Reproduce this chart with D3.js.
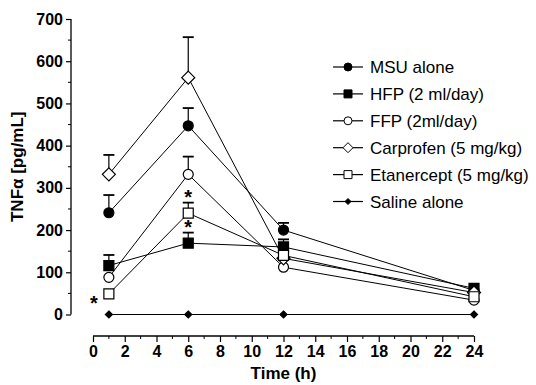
<!DOCTYPE html>
<html>
<head>
<meta charset="utf-8">
<script src="https://cdn.jsdelivr.net/npm/d3@7"></script>
<style>
  body { margin: 0; background: #fff; }
  text { font-family: "Liberation Sans", Arial, sans-serif; }
</style>
</head>
<body>
<div id="chart"></div>
<script>
// time points (h)
const times = [1, 6, 12, 24];

// TNF-alpha means and upper error (SEM) per group
const msuAlone = [241, 447, 200, 57];
const msuErr = [42, 42, 17, 0];
const hfp = [116, 169, 160, 62];
const hfpErr = [25, 25, 18, 0];
const ffp = [88, 332, 112, 34];
const ffpErr = [0, 42, 0, 0];
const carprofen = [332, 561, 133, 52];
const carprofenErr = [46, 96, 0, 0];
const etanercept = [49, 240, 140, 42];
const etanerceptErr = [0, 25, 0, 0];
const saline = [0, 0, 0, 0];

const groups = ['MSU alone', 'HFP (2 ml/day)', 'FFP (2ml/day)', 'Carprofen (5 mg/kg)', 'Etanercept (5 mg/kg)', 'Saline alone'];

const xTicks = [0, 2, 4, 6, 8, 10, 12, 14, 16, 18, 20, 22, 24];
const yTicks = [0, 100, 200, 300, 400, 500, 600, 700];

// significance marks: [time, value the star sits at, side offset]
const stars = [
  {t: 6, v: 265, dx: 0},
  {t: 6, v: 194, dx: 0},
  {t: 1, v: 49, dx: -15}
];

const width = 536, height = 385;

const series = [
  {name: groups[0], vals: msuAlone, err: msuErr, shape: 'circle', fill: '#000', size: 10, lsize: 8},
  {name: groups[1], vals: hfp, err: hfpErr, shape: 'square', fill: '#000', size: 10, lsize: 8},
  {name: groups[2], vals: ffp, err: ffpErr, shape: 'circle', fill: '#fff', size: 10, lsize: 8},
  {name: groups[3], vals: carprofen, err: carprofenErr, shape: 'diamond', fill: '#fff', size: 13, lsize: 10},
  {name: groups[4], vals: etanercept, err: etanerceptErr, shape: 'square', fill: '#fff', size: 10, lsize: 8},
  {name: groups[5], vals: saline, err: [0, 0, 0, 0], shape: 'diamond', fill: '#000', size: 7, lsize: 6}
];

const xScale = d3.scaleLinear().domain([0, 24]).range([93, 474]);
const yScale = d3.scaleLinear().domain([0, 700]).range([314.5, 19]);

const svg = d3.select('#chart')
  .append('svg')
    .attr('width', width)
    .attr('height', height);

// y axis
const yAxis = svg.append('g')
  .attr('transform', 'translate(71,0)');
yAxis.call(d3.axisLeft(yScale).tickValues(yTicks).tickSize(5).tickPadding(3).tickFormat(d3.format('d')));
yAxis.append('g')
  .selectAll('line')
  .data(d3.range(50, 700, 100))
  .join('line')
    .attr('x1', -3).attr('x2', 0)
    .attr('y1', (d) => yScale(d)).attr('y2', (d) => yScale(d))
    .attr('stroke', '#000');
yAxis.select('.domain').attr('d', `M0,${yScale(700)}V${yScale(0)}`);

// x axis (offset below plot)
const xAxis = svg.append('g')
  .attr('transform', 'translate(0,336)');
xAxis.call(d3.axisBottom(xScale).tickValues(xTicks).tickSize(6).tickPadding(4).tickFormat(d3.format('d')));
xAxis.append('g')
  .selectAll('line')
  .data(d3.range(1, 24, 2))
  .join('line')
    .attr('x1', (d) => xScale(d)).attr('x2', (d) => xScale(d))
    .attr('y1', 0).attr('y2', 3)
    .attr('stroke', '#000');
xAxis.select('.domain').attr('d', `M${xScale(0)},0H${xScale(24)}`);

svg.selectAll('.domain').attr('stroke', '#000').attr('stroke-width', 1.3);
svg.selectAll('.tick line').attr('stroke', '#000').attr('stroke-width', 1.2);
svg.selectAll('.tick text')
  .attr('fill', '#000')
  .style('font-size', '16px')
  .style('font-weight', 'bold');

// axis titles
svg.append('text')
  .attr('transform', `translate(23,${(yScale(0) + yScale(700)) / 2}) rotate(-90)`)
  .attr('text-anchor', 'middle')
  .style('font-size', '17px')
  .style('font-weight', 'bold')
  .text('TNFα [pg/mL]');

svg.append('text')
  .attr('x', (xScale(0) + xScale(24)) / 2)
  .attr('y', 379)
  .attr('text-anchor', 'middle')
  .style('font-size', '17px')
  .style('font-weight', 'bold')
  .text('Time (h)');

function symbolPath(shape, size) {
  const h = size / 2;
  if (shape === 'circle') return d3.symbol().type(d3.symbolCircle).size(Math.PI * h * h)();
  if (shape === 'square') return `M${-h},${-h}H${h}V${h}H${-h}Z`;
  return `M0,${-h}L${h},0L0,${h}L${-h},0Z`;
}

const line = d3.line()
  .x((d) => xScale(d.t))
  .y((d) => yScale(d.v));

// lines
series.forEach((s) => {
  const pts = times.map((t, i) => ({t: t, v: s.vals[i], e: s.err[i]}));
  svg.append('path')
    .datum(pts)
    .attr('fill', 'none')
    .attr('stroke', '#000')
    .attr('stroke-width', 1)
    .attr('d', line);
});

// error bars and markers
series.forEach((s) => {
  const pts = times.map((t, i) => ({t: t, v: s.vals[i], e: s.err[i]}));
  const g = svg.append('g');
  g.selectAll('line.err')
    .data(pts.filter((d) => d.e > 0))
    .join('line')
      .attr('x1', (d) => xScale(d.t)).attr('x2', (d) => xScale(d.t))
      .attr('y1', (d) => yScale(d.v)).attr('y2', (d) => yScale(d.v + d.e))
      .attr('stroke', '#000').attr('stroke-width', 1.2);
  g.selectAll('line.cap')
    .data(pts.filter((d) => d.e > 0))
    .join('line')
      .attr('x1', (d) => xScale(d.t) - 5.5).attr('x2', (d) => xScale(d.t) + 5.5)
      .attr('y1', (d) => yScale(d.v + d.e)).attr('y2', (d) => yScale(d.v + d.e))
      .attr('stroke', '#000').attr('stroke-width', 1.8);
  g.selectAll('path')
    .data(pts)
    .join('path')
      .attr('transform', (d) => `translate(${xScale(d.t)},${yScale(d.v)})`)
      .attr('d', symbolPath(s.shape, s.size))
      .attr('fill', s.fill)
      .attr('stroke', '#000')
      .attr('stroke-width', 1.2);
});

// significance stars
svg.selectAll('text.star')
  .data(stars)
  .join('text')
    .attr('x', (d) => xScale(d.t) + d.dx)
    .attr('y', (d) => d.dx === 0 ? yScale(d.v) + 1 : yScale(d.v) + 16)
    .attr('text-anchor', 'middle')
    .style('font-size', '20px')
    .style('font-weight', 'bold')
    .text('*');

// legend
const legend = svg.append('g')
  .attr('transform', 'translate(333,67)');
const item = legend.selectAll('g')
  .data(series)
  .join('g')
    .attr('transform', (d, i) => `translate(0,${i * 26.9})`);
item.append('line')
  .attr('x1', 0).attr('x2', 30)
  .attr('stroke', '#000').attr('stroke-width', 1.2);
item.append('path')
  .attr('transform', 'translate(15,0)')
  .attr('d', (d) => symbolPath(d.shape, d.lsize))
  .attr('fill', (d) => d.fill)
  .attr('stroke', '#000')
  .attr('stroke-width', 1);
item.append('text')
  .attr('x', 37)
  .attr('y', 6)
  .style('font-size', '17px')
  .text((d) => d.name);
</script>
</body>
</html>
